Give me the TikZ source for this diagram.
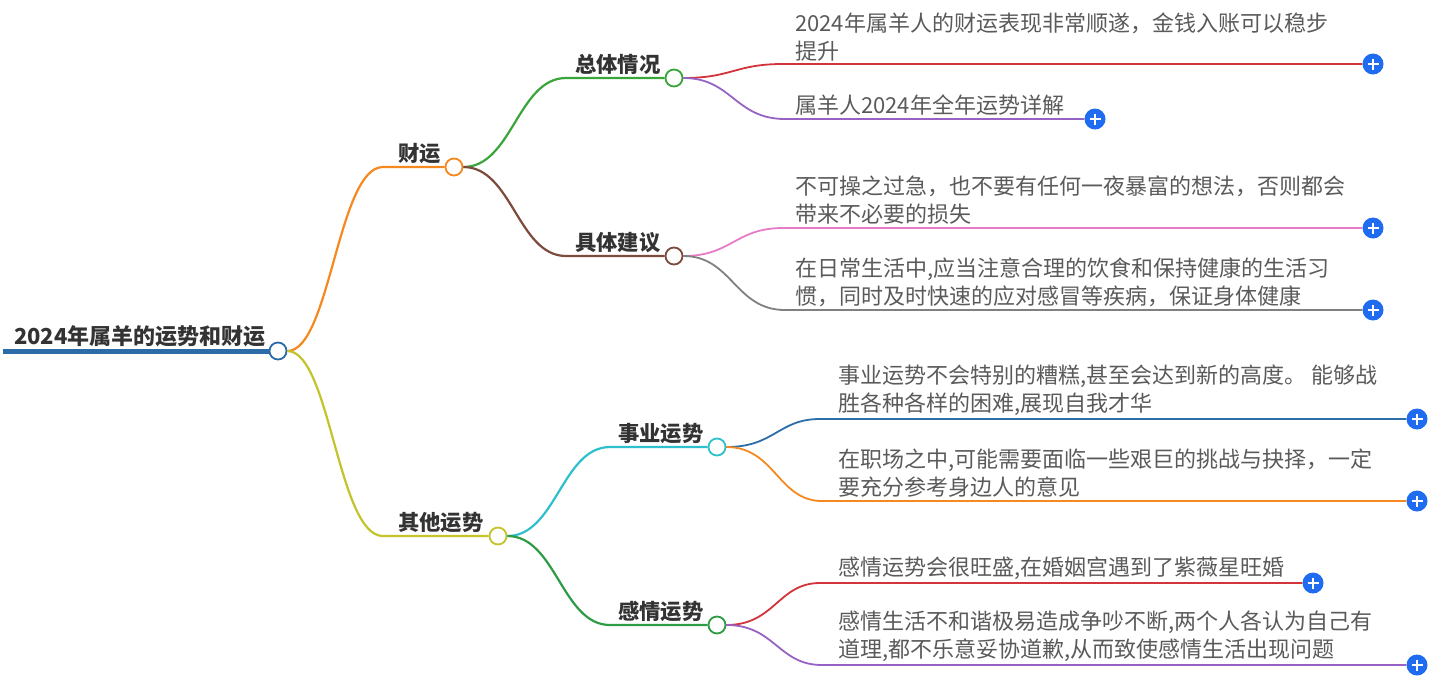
\documentclass[tikz,border=0pt]{standalone}
\usepackage{fontspec}
\setmainfont{Noto Sans CJK SC}
\definecolor{rootblue}{HTML}{2B6CA8}
\definecolor{borange}{HTML}{F5891F}
\definecolor{bgreen}{HTML}{3AA53A}
\definecolor{bbrown}{HTML}{7D4B3B}
\definecolor{bolive}{HTML}{C3C32B}
\definecolor{bcyan}{HTML}{2EC0CF}
\definecolor{bgreenb}{HTML}{2E9B45}
\definecolor{lred}{HTML}{D3333A}
\definecolor{lpurple}{HTML}{9662C4}
\definecolor{lpink}{HTML}{E77CC6}
\definecolor{lgray}{HTML}{808080}
\definecolor{lblue}{HTML}{2C6EA8}
\definecolor{plusblue}{HTML}{1F6CF0}
\definecolor{lbltext}{HTML}{333333}
\definecolor{leaftext}{HTML}{5A5A5A}
\tikzset{
  circ/.style={circle,draw=#1,fill=white,line width=1.8pt,minimum size=17pt,inner sep=0pt},
  lbl/.style={font=\bfseries\fontsize{21.3}{24}\selectfont,text=lbltext,inner sep=0pt,anchor=south west},
  leaf/.style={font=\fontsize{22}{28}\selectfont,text=leaftext,inner sep=0pt,align=left,anchor=south west},
  plusbtn/.style={circle,fill=plusblue,minimum size=21pt,inner sep=0pt,
    path picture={\draw[white,line width=1.8pt]
      ([xshift=5pt]path picture bounding box.west) -- ([xshift=-5pt]path picture bounding box.east)
      ([yshift=-5pt]path picture bounding box.north) -- ([yshift=5pt]path picture bounding box.south);}},
  br/.style={draw=#1,line width=2.2pt},
  lf/.style={draw=#1,line width=1.8pt},
}
\begin{document}
\begin{tikzpicture}[x=1pt,y=-1pt]
\useasboundingbox (0,0) rectangle (1450,681);
% root
\coordinate (rootstart) at (3,351);
\node[circ=rootblue] (root) at (278,351) {};
\draw[draw=rootblue,line width=5pt] (rootstart) -- (root.west);
\node[lbl,font=\bfseries\fontsize{22}{24}\selectfont] (roottxt) at (14,347) {2024年属羊的运势和财运};
% level 1
\node[circ=borange] (cai) at (454,167) {};
\coordinate (caiL) at (383,167);
\node[lbl] (caitxt) at (398,164) {财运};
\draw[br=borange] (root.east) .. controls (330,351) and (338,167) .. (caiL) -- (cai.west);
\node[circ=bolive] (qita) at (498,536) {};
\coordinate (qitaL) at (383,536);
\node[lbl] (qitatxt) at (398,533) {其他运势};
\draw[br=bolive] (root.east) .. controls (330,351) and (338,536) .. (qitaL) -- (qita.west);
% level 2
\node[circ=bgreen] (zt) at (674,78) {};
\coordinate (ztL) at (566,78);
\node[lbl] (zttxt) at (575,75) {总体情况};
\draw[br=bgreen] (cai.east) .. controls (512,167) and (518,78) .. (ztL) -- (zt.west);
\node[circ=bbrown] (jt) at (674,256) {};
\coordinate (jtL) at (566,256);
\node[lbl] (jttxt) at (575,253) {具体建议};
\draw[br=bbrown] (cai.east) .. controls (512,167) and (518,256) .. (jtL) -- (jt.west);
\node[circ=bcyan] (sy) at (717,447) {};
\coordinate (syL) at (610,447);
\node[lbl] (sytxt) at (618,444) {事业运势};
\draw[br=bcyan] (qita.east) .. controls (556,536) and (562,447) .. (syL) -- (sy.west);
\node[circ=bgreenb] (gq) at (717,625) {};
\coordinate (gqL) at (610,625);
\node[lbl] (gqtxt) at (618,622) {感情运势};
\draw[br=bgreenb] (qita.east) .. controls (556,536) and (562,625) .. (gqL) -- (gq.west);
% leaves of 总体情况
\node[plusbtn] (p1) at (1373,64) {};
\coordinate (l1) at (783,64);
\node[leaf] (t1) at (795,61) {2024年属羊人的财运表现非常顺遂，金钱入账可以稳步\\提升};
\draw[lf=lred] (zt.east) .. controls (732,78) and (735,64) .. (l1) -- (p1.west);
\node[plusbtn] (p2) at (1095,119) {};
\coordinate (l2) at (785,119);
\node[leaf] (t2) at (795,116) {属羊人2024年全年运势详解};
\draw[lf=lpurple] (zt.east) .. controls (732,78) and (735,119) .. (l2) -- (p2.west);
% leaves of 具体建议
\node[plusbtn] (p3) at (1373,228) {};
\coordinate (l3) at (783,228);
\node[leaf] (t3) at (795,225) {不可操之过急，也不要有任何一夜暴富的想法，否则都会\\带来不必要的损失};
\draw[lf=lpink] (jt.east) .. controls (732,256) and (735,228) .. (l3) -- (p3.west);
\node[plusbtn] (p4) at (1373,310) {};
\coordinate (l4) at (785,310);
\node[leaf] (t4) at (795,307) {在日常生活中,应当注意合理的饮食和保持健康的生活习\\惯，同时及时快速的应对感冒等疾病，保证身体健康};
\draw[lf=lgray] (jt.east) .. controls (732,256) and (735,310) .. (l4) -- (p4.west);
% leaves of 事业运势
\node[plusbtn] (p5) at (1417,419) {};
\coordinate (l5) at (820,419);
\node[leaf] (t5) at (838,416) {事业运势不会特别的糟糕,甚至会达到新的高度。 能够战\\胜各种各样的困难,展现自我才华};
\draw[lf=lblue] (sy.east) .. controls (775,447) and (778,419) .. (l5) -- (p5.west);
\node[plusbtn] (p6) at (1417,501) {};
\coordinate (l6) at (822,501);
\node[leaf] (t6) at (838,498) {在职场之中,可能需要面临一些艰巨的挑战与抉择，一定\\要充分参考身边人的意见};
\draw[lf=borange] (sy.east) .. controls (775,447) and (778,501) .. (l6) -- (p6.west);
% leaves of 感情运势
\node[plusbtn] (p7) at (1313,583) {};
\coordinate (l7) at (820,583);
\node[leaf] (t7) at (838,580) {感情运势会很旺盛,在婚姻宫遇到了紫薇星旺婚};
\draw[lf=lred] (gq.east) .. controls (775,625) and (778,583) .. (l7) -- (p7.west);
\node[plusbtn] (p8) at (1417,665) {};
\coordinate (l8) at (822,665);
\node[leaf] (t8) at (838,662) {感情生活不和谐极易造成争吵不断,两个人各认为自己有\\道理,都不乐意妥协道歉,从而致使感情生活出现问题};
\draw[lf=lpurple] (gq.east) .. controls (775,625) and (778,665) .. (l8) -- (p8.west);
\end{tikzpicture}
\end{document}
